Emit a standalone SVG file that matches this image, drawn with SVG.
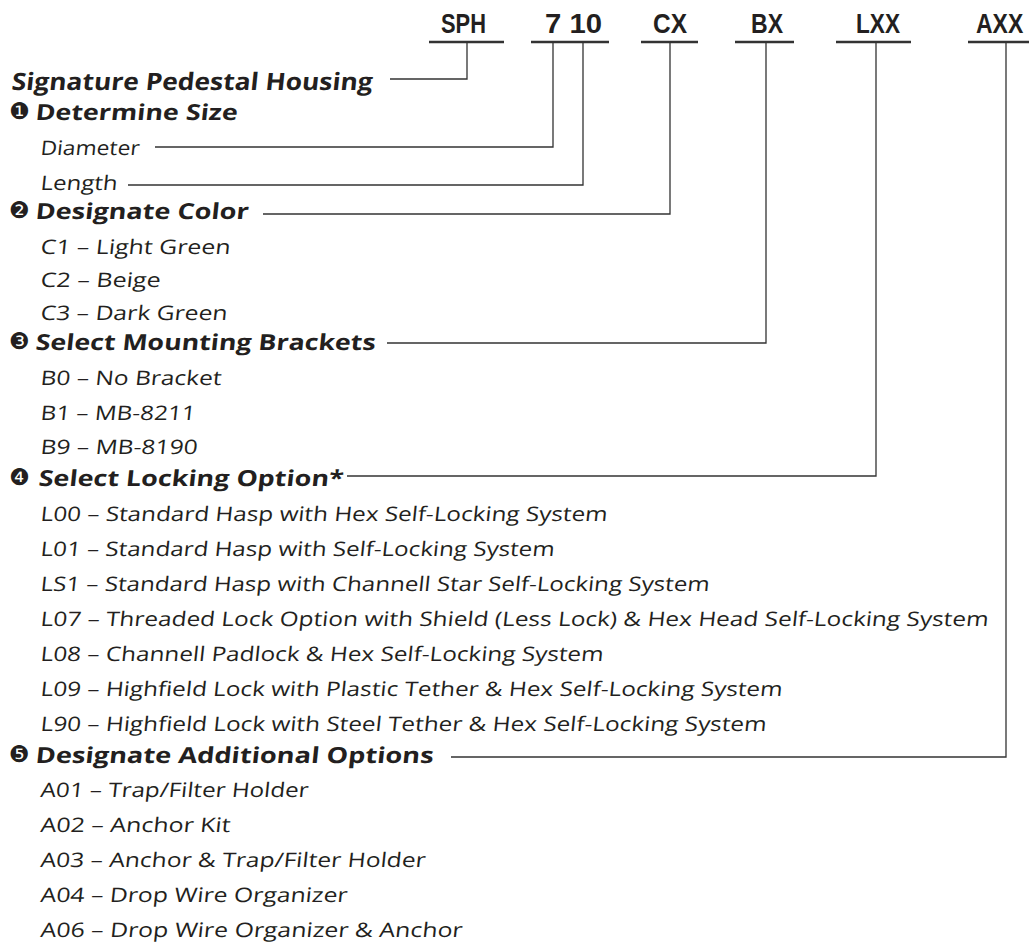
<svg xmlns="http://www.w3.org/2000/svg" width="1029" height="942" viewBox="0 0 1029 942">
<style>
.t{font-family:"Open Sans","Liberation Sans",sans-serif;font-weight:700;font-size:24px;fill:#231f20}
.h{font-family:"Open Sans","Liberation Sans",sans-serif;font-weight:700;font-size:22px;fill:#231f20}
.b{font-family:"Open Sans","Liberation Sans",sans-serif;font-weight:400;font-size:20px;fill:#231f20}
.code{font-family:"Liberation Sans",sans-serif;font-weight:700;font-size:28px;fill:#231f20}
.num{font-family:"DejaVu Sans",sans-serif;font-size:23px;fill:#231f20}
.ul{stroke:#333;stroke-width:2.5}
.c{fill:none;stroke:#333;stroke-width:1.3}
</style>
<rect width="1029" height="942" fill="#fff"/>
<g id="code-sph"><text class="code" x="441" y="33" textLength="45" lengthAdjust="spacingAndGlyphs">SPH</text><line class="ul" x1="429" y1="42" x2="504" y2="42"/></g>
<g id="code-size"><text class="code" x="545" y="33" textLength="57" lengthAdjust="spacingAndGlyphs">7 10</text><line class="ul" x1="531" y1="42" x2="609" y2="42"/></g>
<g id="code-color"><text class="code" x="653" y="33" textLength="34" lengthAdjust="spacingAndGlyphs">CX</text><line class="ul" x1="641" y1="42" x2="698" y2="42"/></g>
<g id="code-bracket"><text class="code" x="751" y="33" textLength="32" lengthAdjust="spacingAndGlyphs">BX</text><line class="ul" x1="735" y1="42" x2="794" y2="42"/></g>
<g id="code-lock"><text class="code" x="856" y="33" textLength="44" lengthAdjust="spacingAndGlyphs">LXX</text><line class="ul" x1="836" y1="42" x2="911" y2="42"/></g>
<g id="code-addon"><text class="code" transform="translate(976,33) scale(0.82,1)">AXX</text><line class="ul" x1="968" y1="42" x2="1029" y2="42"/></g>

<g id="connectors">
<path class="c" d="M467,42 V79 H390"/>
<path class="c" d="M553,42 V147 H155"/>
<path class="c" d="M583,42 V185 H128"/>
<path class="c" d="M670,42 V214 H263"/>
<path class="c" d="M766,42 V343 H387"/>
<path class="c" d="M876,42 V476 H347"/>
<path class="c" d="M1006,42 V757 H451"/>
</g>

<g id="title"><text class="t" transform="translate(11,90) skewX(-6)" textLength="361" lengthAdjust="spacingAndGlyphs">Signature Pedestal Housing</text></g>

<g id="size-section">
<text class="num" x="9" y="119">❶</text>
<text class="h" transform="translate(35,120) skewX(-6)" textLength="202" lengthAdjust="spacingAndGlyphs">Determine Size</text>
<text class="b" transform="translate(40,155) skewX(-6)" textLength="99" lengthAdjust="spacingAndGlyphs">Diameter</text>
<text class="b" transform="translate(40,190) skewX(-6)" textLength="77" lengthAdjust="spacingAndGlyphs">Length</text>
</g>

<g id="color-section">
<text class="num" x="9" y="218">❷</text>
<text class="h" transform="translate(35,219) skewX(-6)" textLength="213" lengthAdjust="spacingAndGlyphs">Designate Color</text>
<text class="b" transform="translate(40,254) skewX(-6)" textLength="190" lengthAdjust="spacingAndGlyphs">C1 – Light Green</text>
<text class="b" transform="translate(40,287) skewX(-6)" textLength="120" lengthAdjust="spacingAndGlyphs">C2 – Beige</text>
<text class="b" transform="translate(40,320) skewX(-6)" textLength="187" lengthAdjust="spacingAndGlyphs">C3 – Dark Green</text>
</g>

<g id="bracket-section">
<text class="num" x="9" y="349">❸</text>
<text class="h" transform="translate(35,350) skewX(-6)" textLength="340" lengthAdjust="spacingAndGlyphs">Select Mounting Brackets</text>
<text class="b" transform="translate(40,385) skewX(-6)" textLength="181" lengthAdjust="spacingAndGlyphs">B0 – No Bracket</text>
<text class="b" transform="translate(40,420) skewX(-6)" textLength="155" lengthAdjust="spacingAndGlyphs">B1 – MB-8211</text>
<text class="b" transform="translate(40,454) skewX(-6)" textLength="157" lengthAdjust="spacingAndGlyphs">B9 – MB-8190</text>
</g>

<g id="lock-section">
<text class="num" x="9" y="485">❹</text>
<text class="h" transform="translate(38,486) skewX(-6)" textLength="305" lengthAdjust="spacingAndGlyphs">Select Locking Option*</text>
<text class="b" transform="translate(40,521) skewX(-6)" textLength="567" lengthAdjust="spacingAndGlyphs">L00 – Standard Hasp with Hex Self-Locking System</text>
<text class="b" transform="translate(40,556) skewX(-6)" textLength="514" lengthAdjust="spacingAndGlyphs">L01 – Standard Hasp with Self-Locking System</text>
<text class="b" transform="translate(40,591) skewX(-6)" textLength="669" lengthAdjust="spacingAndGlyphs">LS1 – Standard Hasp with Channell Star Self-Locking System</text>
<text class="b" transform="translate(40,626) skewX(-6)" textLength="948" lengthAdjust="spacingAndGlyphs">L07 – Threaded Lock Option with Shield (Less Lock) &amp; Hex Head Self-Locking System</text>
<text class="b" transform="translate(40,661) skewX(-6)" textLength="563" lengthAdjust="spacingAndGlyphs">L08 – Channell Padlock &amp; Hex Self-Locking System</text>
<text class="b" transform="translate(40,696) skewX(-6)" textLength="742" lengthAdjust="spacingAndGlyphs">L09 – Highfield Lock with Plastic Tether &amp; Hex Self-Locking System</text>
<text class="b" transform="translate(40,731) skewX(-6)" textLength="726" lengthAdjust="spacingAndGlyphs">L90 – Highfield Lock with Steel Tether &amp; Hex Self-Locking System</text>
</g>

<g id="addon-section">
<text class="num" x="9" y="762">❺</text>
<text class="h" transform="translate(35,763) skewX(-6)" textLength="398" lengthAdjust="spacingAndGlyphs">Designate Additional Options</text>
<text class="b" transform="translate(40,797) skewX(-6)" textLength="268" lengthAdjust="spacingAndGlyphs">A01 – Trap/Filter Holder</text>
<text class="b" transform="translate(40,832) skewX(-6)" textLength="190" lengthAdjust="spacingAndGlyphs">A02 – Anchor Kit</text>
<text class="b" transform="translate(40,867) skewX(-6)" textLength="385" lengthAdjust="spacingAndGlyphs">A03 – Anchor &amp; Trap/Filter Holder</text>
<text class="b" transform="translate(40,902) skewX(-6)" textLength="307" lengthAdjust="spacingAndGlyphs">A04 – Drop Wire Organizer</text>
<text class="b" transform="translate(40,937) skewX(-6)" textLength="422" lengthAdjust="spacingAndGlyphs">A06 – Drop Wire Organizer &amp; Anchor</text>
</g>
</svg>
